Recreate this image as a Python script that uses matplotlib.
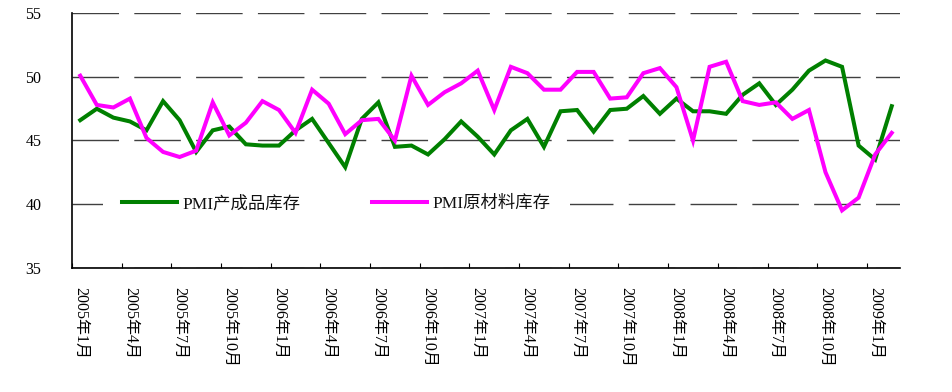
import matplotlib
matplotlib.use("Agg")
import matplotlib.pyplot as plt
import numpy as np

plt.rcParams['font.family'] = ['Liberation Serif', 'Noto Sans CJK SC']
plt.rcParams['lines.scale_dashes'] = False

# monthly PMI inventory sub-indices, 2005-01 .. 2009-02
finished_goods = [46.6, 47.5, 46.8, 46.5, 45.8, 48.1, 46.6, 44.1, 45.8, 46.1,
                  44.7, 44.6, 44.6, 45.8, 46.7, 44.8, 42.9, 46.7, 48.0, 44.5,
                  44.6, 43.9, 45.1, 46.5, 45.3, 43.9, 45.8, 46.7, 44.5, 47.3,
                  47.4, 45.7, 47.4, 47.5, 48.5, 47.1, 48.3, 47.3, 47.3, 47.1,
                  48.6, 49.5, 47.8, 49.0, 50.5, 51.3, 50.8, 44.6, 43.5, 47.7]
raw_materials = [50.1, 47.8, 47.6, 48.3, 45.2, 44.1, 43.7, 44.2, 48.0, 45.4,
                 46.4, 48.1, 47.4, 45.6, 49.0, 47.9, 45.5, 46.6, 46.7, 45.0,
                 50.1, 47.8, 48.8, 49.5, 50.5, 47.4, 50.8, 50.3, 49.0, 49.0,
                 50.4, 50.4, 48.3, 48.4, 50.3, 50.7, 49.2, 45.0, 50.8, 51.2,
                 48.1, 47.8, 48.0, 46.7, 47.4, 42.5, 39.5, 40.5, 43.9, 45.6]
tick_labels = ["2005年1月", "2005年4月", "2005年7月", "2005年10月",
               "2006年1月", "2006年4月", "2006年7月", "2006年10月",
               "2007年1月", "2007年4月", "2007年7月", "2007年10月",
               "2008年1月", "2008年4月", "2008年7月", "2008年10月",
               "2009年1月"]
series_names = ["PMI产成品库存", "PMI原材料库存"]

x = np.arange(len(finished_goods))

fig = plt.figure(figsize=(9.52, 3.92), dpi=100)
ax = fig.add_axes([0.0756, 0.3176, 0.8698, 0.648])

ax.plot(x, finished_goods, color='#008000', lw=2.9, label=series_names[0],
        solid_joinstyle='miter', zorder=3)
ax.plot(x, raw_materials, color='#FF00FF', lw=2.9, label=series_names[1],
        solid_joinstyle='miter', zorder=3)

ax.set_xlim(-0.5, len(x) - 0.5)
ax.set_ylim(35, 55)
ax.set_yticks([35, 40, 45, 50, 55])
ax.tick_params(axis='y', length=0, pad=22, labelsize=11.5)

# labels on every third month, short inward ticks on category boundaries
label_pos = x[::3]
ax.set_xticks(label_pos)
ax.set_xticklabels(tick_labels, rotation=270, fontsize=11.5, va='top', ha='center')
ax.tick_params(axis='x', which='major', length=0, pad=14)
ax.set_xticks(label_pos - 0.5, minor=True)
ax.tick_params(axis='x', which='minor', direction='in', length=3.5, width=0.8)

ax.yaxis.grid(True, color='#404040', lw=1.0, linestyle=(0, (33.5, 11.0)))
ax.set_axisbelow(True)

for side in ['top', 'right']:
    ax.spines[side].set_visible(False)
for side in ['left', 'bottom']:
    ax.spines[side].set_linewidth(1.2)
    ax.spines[side].set_color('black')

leg = ax.legend(loc='center left', bbox_to_anchor=(0.0374, 0.25), ncol=2,
                frameon=True, facecolor='white', edgecolor='none', framealpha=1,
                fontsize=12.5, handlelength=3.15, handletextpad=0.35,
                columnspacing=4.1, borderpad=1.1, borderaxespad=0)
for t in leg.get_texts():
    t.set_color('#111111')

fig.savefig("out.png", dpi=100)
